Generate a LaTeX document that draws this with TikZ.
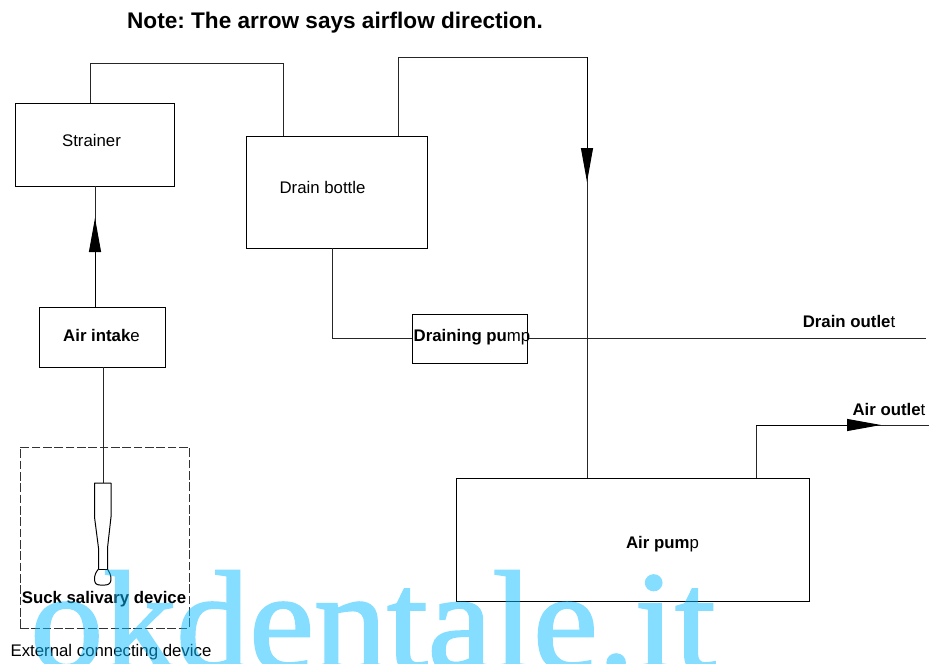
\documentclass[tikz,border=0pt]{standalone}
\usepackage{fontspec}
\setmainfont{Liberation Sans}
\newfontfamily\wmfont[FakeBold=1.5]{Liberation Serif}
\usetikzlibrary{arrows.meta,positioning}
\definecolor{wmblue}{HTML}{0BBBFF}
\tikzset{
  x=0.75pt,y=-0.75pt,
  boxnode/.style={draw=black,line width=0.75pt,minimum width=#1,inner sep=0pt,outer sep=0pt},
  conn/.style={draw=black!85,line width=0.75pt},
  dirtip/.style={-{Triangle[length=#1,width=9pt,fill=black]},draw=black,line width=0.75pt},
  lbl/.style={font=\fontsize{12.6pt}{14pt}\selectfont,inner sep=0pt,text=black,anchor=base},
}
\newcommand{\bd}[1]{\textbf{#1}}
\begin{document}
\frenchspacing
\begin{tikzpicture}
\useasboundingbox (0,0) rectangle (929,664);

\node[boxnode=119.25pt,minimum height=62.25pt] (strainer) at (95,144.5) {};
\node[boxnode=135.75pt,minimum height=84pt] (drain) at (337,192) {};
\node[boxnode=94.5pt,minimum height=45pt] (intake) at (102.5,337) {};
\node[boxnode=86.25pt,minimum height=36.75pt] (dpump) at (469.5,338.5) {};
\node[boxnode=264.75pt,minimum height=92.25pt] (apump) at (633,539.5) {};
\node[draw=black!80,dash pattern=on 6.5pt off 2pt,line width=0.75pt,minimum width=126.75pt,minimum height=135.75pt,inner sep=0pt,outer sep=0pt] (ext) at (104.5,537.5) {};

\coordinate (a1) at (90,63);
\coordinate (a2) at (283,63);
\coordinate (b1) at (398,57);
\coordinate (b2) at (587,57);
\coordinate (btip) at (587,182);
\coordinate (c1) at (332,338);
\coordinate (dout) at (926,338);
\coordinate (itip) at (95,218);
\coordinate (e1) at (756,425);
\coordinate (etip) at (881,425);
\coordinate (eout) at (929,425);
\coordinate (devtop) at (103,483);

\draw[conn] (strainer.north -| a1) -- (a1) -- (a2) -- (drain.north -| a2);
\draw[conn] (drain.north -| b1) -- (b1) -- (b2) -- (apump.north -| b2);
\draw[dirtip=25.5pt] (b2) -- (btip);
\draw[conn] (drain.south -| c1) -- (c1) -- (dpump.west |- c1);
\draw[conn] (dpump.east |- dout) -- (dout);
\draw[conn] (intake.north -| itip) -- (strainer.south -| itip);
\draw[dirtip=25.5pt] (intake.north -| itip) -- (itip);
\draw[conn] (intake.south -| devtop) -- (devtop);
\draw[conn] (apump.north -| e1) -- (e1) -- (eout);
\draw[dirtip=25.5pt] (e1) -- (etip);

% suction device
\draw[line width=0.75pt,line join=round] (94.5,483) -- (111,483) -- (111,517) -- (107.5,548) -- (107.5,569)
  .. controls (109.5,572) and (111,575) .. (111,579)
  .. controls (111,583) and (109,585) .. (105,585)
  -- (100,585)
  .. controls (96,585) and (94.5,583) .. (94.5,579)
  .. controls (94.5,575) and (96,572) .. (98.5,569)
  -- (98.5,548) -- (94.5,517) -- cycle;
\draw[line width=0.75pt] (98.5,569) -- (107.5,569);

\node[lbl,font=\bfseries\fontsize{16.95pt}{18pt}\selectfont] (title) at (335,28) {Note: The arrow says airflow direction.};
\node[lbl] (t1) at (91.5,146) {Strainer};
\node[lbl] (t2) at (322.5,193) {Drain bottle};
\node[lbl] (t3) at (101.5,341) {\bd{Air intak}e};
\node[lbl] (t4) at (472,341) {\bd{Draining pu}mp};
\node[lbl] (t5) at (849,327) {\bd{Drain outle}t};
\node[lbl] (t6) at (889,415) {\bd{Air outle}t};
\node[lbl] (t7) at (662.5,548) {\bd{Air pum}p};
\node[lbl] (t8) at (104,603) {\bd{Suck salivary device}};
\node[lbl] (t9) at (111,656) {External connecting device};

\begin{scope}[transparency group,opacity=0.5]
\node[anchor=base west,inner sep=0pt,text=wmblue,font=\wmfont\fontsize{109.5pt}{110pt}\selectfont] (wm) at (30,669) {\scalebox{1}[0.97]{okdentale.it}};
\end{scope}
\end{tikzpicture}
\end{document}
